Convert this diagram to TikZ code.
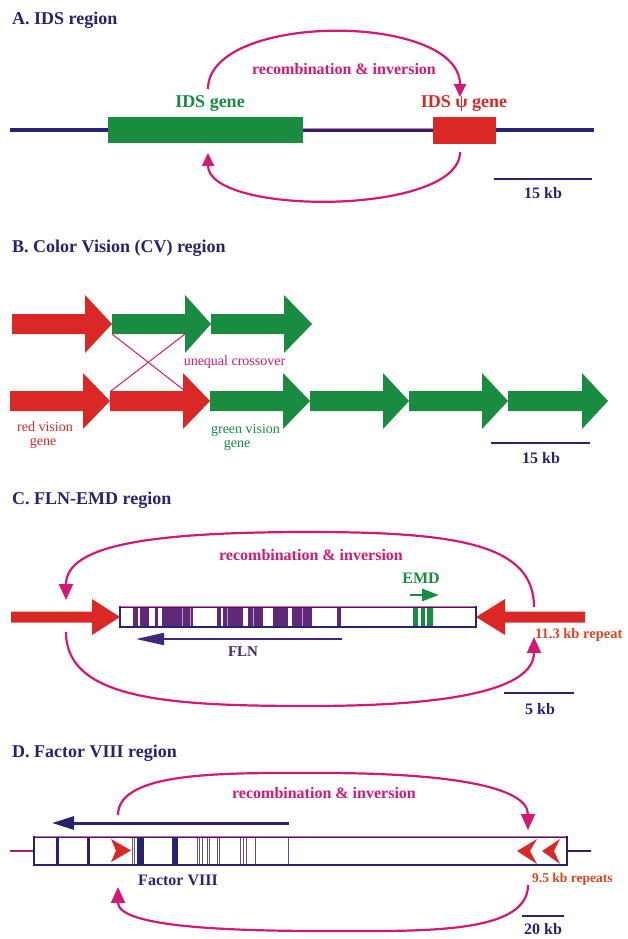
\documentclass[tikz,border=0pt]{standalone}
\usepackage{fontspec}
\setmainfont{Liberation Serif}
\usetikzlibrary{arrows.meta}
\definecolor{navy}{RGB}{40,35,110}
\definecolor{mag}{RGB}{210,25,115}
\definecolor{ggreen}{RGB}{25,140,65}
\definecolor{rred}{RGB}{218,40,38}
\definecolor{purp}{RGB}{95,40,120}
\definecolor{flnc}{RGB}{65,40,125}
\definecolor{orng}{RGB}{222,68,30}
\definecolor{thinl}{RGB}{90,80,150}
\newcommand\FatArr[7]{%
  \fill[#1] (#2,{#5-#6}) -- (#3,{#5-#6}) -- (#3,{#5-#7}) -- (#4,#5) -- (#3,{#5+#7}) -- (#3,{#5+#6}) -- (#2,{#5+#6}) -- cycle;}
\begin{document}
\begin{tikzpicture}[x=1pt,y=-1pt,
  title/.style={font=\fontsize{18}{20}\selectfont\bfseries, text=navy, anchor=west, inner sep=0pt},
  recomb/.style={font=\fontsize{16}{18}\selectfont\bfseries, text=mag, inner sep=0pt},
  recarc/.style={draw=mag, line width=2.2pt},
  recarrA/.style={recarc, -{Triangle[length=13pt,width=12pt]}},
  recarrC/.style={recarc, -{Triangle[length=16pt,width=14pt]}},
  scalebar/.style={draw=navy, line width=2.5pt},
  scalelab/.style={font=\fontsize{16}{18}\selectfont\bfseries, text=navy, inner sep=0pt},
  smalllab/.style={font=\fontsize{14}{16}\selectfont, inner sep=0pt},
  genelab/.style={font=\fontsize{18}{20}\selectfont\bfseries, inner sep=0pt}
]
\useasboundingbox (0,0) rectangle (627,939);
\fill[white] (0,0) rectangle (627,939);

% ---------------- A ----------------
\node[title] (tA) at (12,20) {A. IDS region};
\draw[navy, line width=3.5pt] (10,130) -- (594,130);
\draw[mag!60, line width=0.8pt] (303,128.5) -- (433,128.5);
\fill[ggreen] (108,117) rectangle (303,143);
\fill[rred] (433,117) rectangle (496,144);
\node[genelab, text=ggreen] (idsg) at (210,104) {IDS gene};
\node[genelab, text=rred] (idsp) at (464,104) {IDS ψ gene};
\draw[recarrA] (208,89) .. controls (208,12) and (460,12) .. (460,97);
\draw[recarrA] (460,152) .. controls (460,216) and (208,216) .. (208,153);
\node[recomb] (rA) at (344,69) {recombination \& inversion};
\draw[scalebar] (494,179) -- (592,179);
\node[scalelab] (sA) at (543,193) {15 kb};

% ---------------- B ----------------
\node[title] (tB) at (12,248) {B. Color Vision (CV) region};
\FatArr{rred}{12}{85}{112}{324}{10}{29}
\FatArr{ggreen}{112}{185}{211}{324}{10}{29}
\FatArr{ggreen}{211}{284}{312}{324}{10}{29}
\FatArr{rred}{10}{83}{110}{401}{10}{28}
\FatArr{rred}{110}{183}{210}{401}{10}{28}
\FatArr{ggreen}{210}{283}{310}{401}{10}{28}
\FatArr{ggreen}{310}{383}{409}{401}{10}{28}
\FatArr{ggreen}{409}{482}{508}{401}{10}{28}
\FatArr{ggreen}{508}{582}{608}{401}{10}{28}
\draw[mag, line width=1pt] (112,334) -- (185,391);
\draw[mag, line width=1pt] (185,334) -- (111,391);
\node[smalllab, text=mag] (uc) at (234.5,362) {unequal crossover};
\node[smalllab, text=rred] (rv1) at (45,427) {red vision};
\node[smalllab, text=rred] (rv2) at (43,443) {gene};
\node[smalllab, text=ggreen] (gv1) at (245.5,430) {green vision};
\node[smalllab, text=ggreen] (gv2) at (237,445) {gene};
\draw[scalebar] (491,443) -- (590,443);
\node[scalelab] (sB) at (541,458) {15 kb};

% ---------------- C ----------------
\node[title] (tC) at (12,500) {C. FLN-EMD region};
\fill[white] (120,607) rectangle (476,627);
\foreach \a/\b in {132.7/138.3, 139.5/149, 155/158, 162/193, 217/221, 223/243, 248/263, 273/288, 292/312, 337/341}
  \fill[purp] (\a,607) rectangle (\b,627);
\foreach \a in {182,190,227,253,302}
  \draw[purp!45, line width=0.8pt] (\a,607) -- (\a,627);
\foreach \a/\b in {413/418, 421/425, 427/433}
  \fill[ggreen] (\a,607) rectangle (\b,627);
\draw[navy, line width=2pt] (120,607) rectangle (476,627);
\draw[mag!70, line width=0.7pt] (121,606) -- (475,606);
\FatArr{rred}{11}{92}{120}{617}{5.5}{18}
\FatArr{rred}{585}{505}{476}{617}{5.5}{18}
\draw[recarrC] (534,607) .. controls (534,545) and (460,532) .. (310,532) .. controls (150,532) and (66,545) .. (66,600);
\draw[recarrC] (66,632) .. controls (66,700) and (170,706) .. (310,706) .. controls (450,706) and (534,690) .. (534,637);
\node[recomb] (rC) at (311,555) {recombination \& inversion};
\node[font=\fontsize{16}{18}\selectfont\bfseries, text=ggreen, inner sep=0pt] (emd) at (421,578) {EMD};
\draw[ggreen, line width=2.5pt, -{Triangle[length=17pt,width=12pt]}] (410,595) -- (439,595);
\draw[flnc, line width=2pt, -{Triangle[length=28pt,width=12pt]}] (342,639) -- (136,639);
\node[font=\fontsize{15}{17}\selectfont\bfseries, text=flnc, inner sep=0pt] (fln) at (243,652) {FLN};
\node[font=\fontsize{14.5}{16}\selectfont\bfseries, text=orng, inner sep=0pt, anchor=west] (rep11) at (535,635) {11.3 kb repeat};
\draw[scalebar] (504,693) -- (574,693);
\node[scalelab] (sC) at (540,709) {5 kb};

% ---------------- D ----------------
\node[title] (tD) at (12,753) {D. Factor VIII region};
\draw[mag!80!navy, line width=2.5pt] (10,851) -- (34,851);
\draw[navy, line width=2.5pt] (567,851) -- (591,851);
\fill[white] (34,837) rectangle (567,865);
\foreach \a/\b in {55.5/59, 86.5/90, 137/144, 172/177.5}
  \fill[navy] (\a,837) rectangle (\b,865);
\foreach \a in {132,134,197,199,202,207,209,217,219,240,243,246,255,288}
  \draw[thinl, line width=0.8pt] (\a,837) -- (\a,865);
\fill[rred] (111,839) -- (131,850.5) -- (111,862) -- (116,850.5) -- cycle;
\fill[rred] (517,851) -- (537,839) -- (530,851) -- (537,864) -- cycle;
\fill[rred] (542,851) -- (560,839) -- (554,851) -- (560,864) -- cycle;
\draw[navy, line width=2pt] (34,837) rectangle (567,865);
\draw[mag!70, line width=0.7pt] (35,836) -- (566,836);
\draw[navy, line width=3pt, -{Triangle[length=22pt,width=13pt]}] (289,823) -- (52,823);
\node[recomb] (rD) at (324,793) {recombination \& inversion};
\draw[recarrC] (118,815) .. controls (118,770) and (230,773) .. (323,773) .. controls (440,773) and (528,785) .. (528,830);
\draw[recarrC] (528,885) .. controls (528,935) and (420,931) .. (323,931) .. controls (210,931) and (118,925) .. (118,887);
\node[font=\fontsize{16}{18}\selectfont\bfseries, text=navy, inner sep=0pt] (f8) at (178,880) {Factor VIII};
\node[font=\fontsize{13.5}{15}\selectfont\bfseries, text=orng, inner sep=0pt, anchor=west] (rep9) at (532,879) {9.5 kb repeats};
\draw[scalebar] (522,916) -- (564,916);
\node[scalelab] (sD) at (543,929) {20 kb};
\end{tikzpicture}
\end{document}
